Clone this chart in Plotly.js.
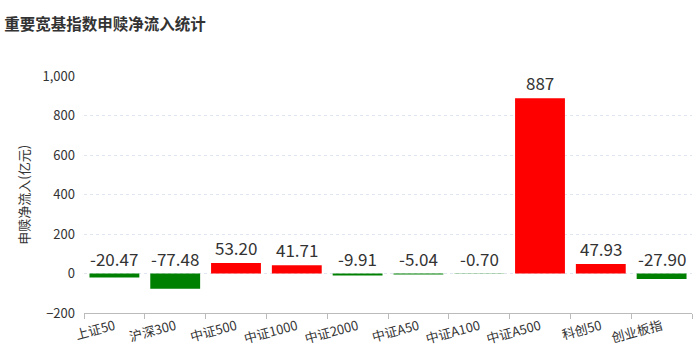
<!DOCTYPE html>
<html><head><meta charset="utf-8">
<script src="https://cdn.plot.ly/plotly-3.0.1.min.js"></script>
<style>html,body{margin:0;padding:0;background:#fff;}#chart{width:695px;height:360px;}</style>
</head><body><div id="chart"></div>
<script>
const categories = ["上证50","沪深300","中证500","中证1000","中证2000","中证A50","中证A100","中证A500","科创50","创业板指"];
const values = [-20.47,-77.48,53.20,41.71,-9.91,-5.04,-0.70,887,47.93,-27.90];
const labels = ["-20.47","-77.48","53.20","41.71","-9.91","-5.04","-0.70","887","47.93","-27.90"];
const yTicks = [-200,0,200,400,600,800,1000];

const FONT = "'Noto Sans CJK SC', 'Noto Sans', sans-serif";
const colors = values.map(v => v >= 0 ? "#ff0000" : "#008000");

const annotations = categories.map((c,i) => ({
  x: c, y: Math.max(values[i],0), xref:'x', yref:'y',
  text: labels[i], showarrow:false, yanchor:'bottom', yshift:1,
  font:{family:FONT, size:17, color:'#333'}
}));
annotations.push({
  xref:'paper', yref:'paper', x:-0.1, y:0.5, xanchor:'center', yanchor:'middle',
  text:'申赎净流入(亿元)', textangle:-90, showarrow:false,
  font:{family:FONT, size:13, color:'#333'}
});

Plotly.newPlot('chart', [{
  type:'bar', x:categories, y:values,
  marker:{color:colors},
  hoverinfo:'none'
}], {
  width:695, height:360,
  margin:{l:84, r:3, t:76, b:47},
  paper_bgcolor:'#fff', plot_bgcolor:'#fff',
  bargap:0.18,
  title:{text:'<b>重要宽基指数申赎净流入统计</b>', x:0.006, xanchor:'left', y:0.931, yanchor:'middle',
    font:{family:FONT, size:15.5, color:'#333'}},
  xaxis:{
    type:'category', tickangle:-15, showgrid:false, zeroline:false,
    showline:true, linecolor:'#bbb', linewidth:1,
    ticks:'outside', tickson:'boundaries', ticklen:5, tickcolor:'#bbb',
    tickfont:{family:FONT, size:13, color:'#333'}
  },
  yaxis:{
    range:[-200,1000], tickvals:yTicks, tickformat:',d',
    showgrid:true, gridcolor:'#e0e6f1', griddash:'dot', gridwidth:1,
    zeroline:false, showline:false, ticks:'', ticklabelstandoff:8,
    tickfont:{family:FONT, size:13, color:'#333'}
  },
  annotations:annotations,
  showlegend:false
}, {staticPlot:true});
</script></body></html>
